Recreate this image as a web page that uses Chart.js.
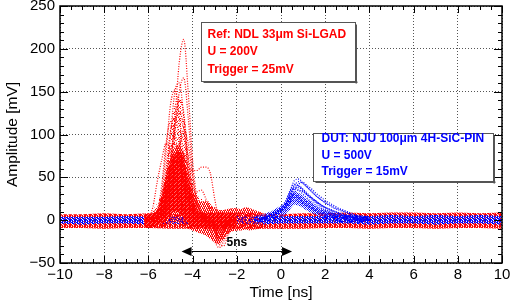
<!DOCTYPE html>
<html>
<head>
<meta charset="utf-8">
<script src="https://cdn.jsdelivr.net/npm/chart.js@4.4.1/dist/chart.umd.min.js"></script>
<style>
  html, body { margin: 0; padding: 0; background: #fff; }
  canvas { display: block; }
</style>
</head>
<body>
<canvas id="scope" width="512" height="305"></canvas>
<script>
// ---- axis ranges / labels ----
const xMin = -10, xMax = 10, xStep = 2, xMinor = 0.5;
const yMin = -50, yMax = 250, yStep = 50, yMinor = 10;
const xTitle = 'Time [ns]';
const yTitle = 'Amplitude [mV]';

// ---- baseline noise band (both detectors), 1 ns grid ----
const bandT = [-10,-9,-8,-7,-6,-5,-4,-3,-2,-1,0,1,2,3,4,5,6,7,8,9,10];
const baseRedHigh = [7,7,8,7,8,7,8,9,9,8,7,8,8,9,8,9,9,8,9,8,9];
const baseRedLow  = [-9,-9,-10,-9,-9,-10,-10,-11,-10,-10,-10,-10,-9,-9,-10,-9,-9,-10,-9,-9,-10];
const baseBlueHigh = [4,4,4,5,4,4,5,5,5,4,5,5,5,6,5,6,5,6,5,6,5];
const baseBlueLow  = [-4,-5,-4,-4,-5,-4,-5,-4,-4,-5,-4,-4,-4,-4,-5,-4,-4,-5,-4,-4,-5];

// ---- Si-LGAD (red) pulses, 0.2 ns grid ----
const redT = [-6.2,-6.0,-5.8,-5.6,-5.4,-5.2,-5.0,-4.8,-4.6,-4.4,-4.2,-4.0,-3.8,-3.6,-3.4,-3.2,-3.0,-2.8,-2.6,-2.4,-2.2,-2.0];
const redCoreHigh = [7,7,8,12,28,50,68,78,80,72,48,28,12,9,8,8,8,8,8,8,8,8];
const redCoreLow  = [-8,-8,-8,-6,-4,0,6,10,8,2,-4,-8,-9,-9,-9,-9,-9,-9,-9,-9,-9,-9];
const redSpreadHigh = [7,7,9,14,30,55,75,85,88,80,58,38,25,22,22,18,14,12,12,13,14,14];
const redSpreadLow  = [-9,-9,-9,-9,-8,-6,-4,-2,-4,-8,-10,-12,-14,-16,-18,-22,-26,-28,-22,-16,-13,-12];
const redHaloHigh = [8,9,12,20,35,65,105,135,145,125,85,45,30,25,24,20,15,12,12,12,12,12];
const redTraces = [
  [0,0,2,3,8,25,60,120,185,211,150,70,25,10,5,2,-5,-10,-5,0,2,0],
  [0,1,2,3,6,20,50,100,150,166,120,55,20,8,4,0,-6,-12,-6,0,2,0],
  [0,1,3,5,15,45,100,150,160,120,60,25,10,5,2,0,-4,-8,-3,0,1,0],
  [0,2,3,8,30,80,135,152,120,70,30,12,6,3,1,-2,-8,-12,-6,-2,0,0],
  [0,0,2,4,10,30,70,110,128,105,55,20,8,4,0,-3,-10,-18,-10,-3,0,0],
  [0,2,4,10,40,90,115,100,70,40,20,10,5,2,0,-5,-15,-25,-15,-5,0,0],
  [0,0,1,2,5,15,40,70,90,98,75,35,15,8,4,0,-8,-20,-15,-5,0,0],
  [0,3,15,45,70,90,80,50,25,12,5,2,0,0,0,-3,-10,-20,-10,-3,0,0],
  [0,0,1,2,4,10,30,60,80,75,62,58,58,62,62,55,25,0,-8,-3,0,0],
  [0,0,0,2,5,20,50,70,65,45,30,28,33,35,25,12,0,-15,-22,-10,-2,0],
  [0,0,1,3,8,25,55,75,70,50,25,10,5,0,-5,-12,-25,-32,-25,-12,-4,0],
  [0,0,0,1,4,12,35,60,75,65,40,18,8,3,0,-8,-20,-28,-30,-18,-6,0],
  [0,1,2,4,12,30,45,40,28,15,8,4,2,0,-2,-6,-12,-15,-8,-2,0,0],
  [0,0,0,0,2,8,25,50,60,55,35,15,6,3,10,15,10,0,-10,-15,-8,-2],
  [0,0,1,3,8,28,70,115,140,125,70,30,12,5,2,0,-6,-14,-8,-2,0,0],
  [0,1,2,6,20,60,105,120,95,55,25,10,5,2,0,-4,-12,-20,-12,-4,0,0],
  [0,0,0,1,3,10,25,55,85,105,90,50,20,10,5,0,-6,-16,-12,-4,0,0],
  [0,1,2,5,18,50,85,90,70,45,22,10,5,2,0,-4,-10,-22,-14,-4,0,0]
];
const redTailT = [-2.2,-2.0,-1.8,-1.6,-1.4,-1.2,-1.0,-0.8];
const redTailHigh = [12,14,13,15,14,12,10,8];
const redTailLow  = [-13,-12,-12,-11,-12,-11,-10,-9];

// ---- 4H-SiC-PIN (blue) pulses, 0.2 ns grid ----
const blueT = [-1.2,-1.0,-0.8,-0.6,-0.4,-0.2,0,0.2,0.4,0.6,0.8,1.0,1.2,1.4,1.6,1.8,2.0,2.2,2.4,2.6,2.8,3.0,3.2,3.4,3.6,3.8,4.0];
const blueCoreHigh = [5,6,7,9,11,14,17,21,28,33,32,28,24,20,16,13,11,9,8,7,6,6,5,5,5,5,5];
const blueCoreLow  = [-4,-4,-3,-2,0,2,3,6,12,18,17,14,11,8,6,4,2,0,-1,-2,-2,-3,-3,-3,-3,-3,-3];
const blueTraces = [
  [0,1,3,5,7,10,13,18,32,46,48,43,38,33,28,24,21,18,15,13,11,9,7,5,4,3,2],
  [0,1,2,4,6,8,11,16,28,40,45,43,38,33,28,24,20,17,14,12,10,8,6,5,3,2,1],
  [0,1,3,5,8,11,14,20,34,42,40,35,30,26,22,18,15,13,11,9,7,5,4,3,2,1,0],
  [0,0,2,4,6,9,12,17,30,39,40,36,31,26,22,18,15,12,10,8,6,5,4,3,2,1,0],
  [0,1,2,4,7,10,13,18,29,37,35,30,25,21,17,14,11,9,7,6,5,4,3,2,1,0,0],
  [0,0,1,3,5,8,11,15,24,32,35,33,29,25,21,18,15,12,10,8,7,6,4,3,2,1,0],
  [0,1,3,5,8,11,15,22,31,30,26,22,18,15,12,10,8,6,5,4,3,2,1,1,0,0,0],
  [0,0,2,4,6,9,12,16,24,29,28,25,21,18,15,12,10,8,6,5,4,3,2,1,0,0,0],
  [0,1,2,3,5,8,11,15,22,27,25,21,17,14,11,9,7,5,4,3,2,1,0,0,0,0,0],
  [0,0,1,3,5,7,10,14,20,24,22,19,16,13,10,8,6,5,4,3,2,1,0,0,0,0,0],
  [0,0,1,3,5,7,9,12,20,34,42,44,40,36,31,27,23,20,17,14,12,10,8,6,5,4,3],
  [0,1,2,4,6,9,12,16,26,36,38,34,29,24,20,16,13,10,8,6,5,4,3,2,1,0,0]
];

// ---- annotations ----
const refLines = ['Ref: NDL 33\u03BCm Si-LGAD', 'U = 200V', 'Trigger = 25mV'];
const dutLines = ['DUT: NJU 100\u03BCm 4H-SiC-PIN', 'U = 500V', 'Trigger = 15mV'];
const arrowFrom = -4.5, arrowTo = 0.5, arrowLevel = -36;
const arrowText = '5ns';

Chart.defaults.font.family = '"Liberation Sans", Arial, sans-serif';

const RED = '#ff0000', BLUE = '#0000ff';

function makePattern(rows) {
  const pal = { R: '#ff0000', r: '#ff6a6a', B: '#0000ff', b: '#5a5aff' };
  const c = document.createElement('canvas');
  c.width = rows[0].length;
  c.height = rows.length;
  const g = c.getContext('2d');
  rows.forEach((row, j) => {
    [...row].forEach((ch, i) => {
      if (pal[ch]) { g.fillStyle = pal[ch]; g.fillRect(i, j, 1, 1); }
    });
  });
  return g.createPattern(c, 'repeat');
}

const patBaseRed = makePattern(['RrR.R', 'R.RrR', 'rRR.R', 'R.RRr', 'RR.rR']);
const patBaseBlue = makePattern(['BbB.B', 'B.BbR', 'bBB.B', 'R.BBb', 'BB.bB']);
const patRedCore = makePattern(['RRrR', 'RRRR', 'rRRR', 'RRRr']);
const patRedSpread = makePattern(['R.Rr', '.R.R', 'rR.R', 'R.R.']);
const patRedHalo = makePattern(['R...r.', '...R..', '.r....', '....R.', 'R.....', '..r..R']);
const patBlueCore = makePattern(['B.b.', '.B.B', 'b.B.', '.B.b']);

const pts = (t, v) => t.map((x, i) => ({ x: x, y: v[i] }));

const datasets = [];
function band(t, high, low, pattern, order, smooth) {
  const common = { pointRadius: 0, borderWidth: 0, borderColor: 'rgba(0,0,0,0)', order: order,
    cubicInterpolationMode: smooth ? 'monotone' : 'default', tension: 0 };
  datasets.push(Object.assign({ data: pts(t, high), fill: '+1', backgroundColor: pattern }, common));
  datasets.push(Object.assign({ data: pts(t, low), fill: false }, common));
}
band(bandT, baseRedHigh, baseRedLow, patBaseRed, 20, false);
band(bandT, baseBlueHigh, baseBlueLow, patBaseBlue, 19, false);
band(redTailT, redTailHigh, redTailLow, patRedSpread, 18, true);
band(redT, redHaloHigh, redSpreadHigh, patRedHalo, 17, true);
band(redT, redSpreadHigh, redSpreadLow, patRedSpread, 16, true);
band(redT, redCoreHigh, redCoreLow, patRedCore, 15, true);
band(blueT, blueCoreHigh, blueCoreLow, patBlueCore, 14, true);

redTraces.forEach(v => datasets.push({
  data: pts(redT, v), borderColor: RED, borderWidth: 1.2, borderDash: [1, 1.5],
  pointRadius: 0, fill: false, cubicInterpolationMode: 'monotone', order: 5
}));
blueTraces.forEach(v => datasets.push({
  data: pts(blueT, v), borderColor: BLUE, borderWidth: 1.2, borderDash: [1, 1.5],
  pointRadius: 0, fill: false, cubicInterpolationMode: 'monotone', order: 4
}));

const fmt = v => (v < 0 ? '\u2212' + Math.abs(v) : String(v));

// frame, inward ticks, text boxes and the 5ns arrow
const overlay = {
  id: 'overlay',
  afterDatasetsDraw(chart) {
    const { ctx, chartArea: a, scales: { x, y } } = chart;
    ctx.save();

    ctx.strokeStyle = '#000';
    ctx.lineWidth = 1;
    ctx.beginPath();
    for (let v = xMin; v <= xMax + 1e-9; v += xMinor) {
      const px = Math.round(x.getPixelForValue(v)) + 0.5;
      const len = Math.abs(v / xStep - Math.round(v / xStep)) < 1e-6 ? 7 : 4;
      ctx.moveTo(px, a.bottom); ctx.lineTo(px, a.bottom - len);
      ctx.moveTo(px, a.top); ctx.lineTo(px, a.top + len);
    }
    for (let v = yMin; v <= yMax + 1e-9; v += yMinor) {
      const py = Math.round(y.getPixelForValue(v)) + 0.5;
      const len = v % yStep === 0 ? 8 : 4;
      ctx.moveTo(a.left, py); ctx.lineTo(a.left + len, py);
      ctx.moveTo(a.right, py); ctx.lineTo(a.right - len, py);
    }
    ctx.stroke();
    ctx.lineWidth = 1.5;
    ctx.strokeRect(a.left, a.top, a.right - a.left, a.bottom - a.top);

    // 5ns arrow
    const ax0 = x.getPixelForValue(arrowFrom), ax1 = x.getPixelForValue(arrowTo);
    const ay = Math.round(y.getPixelForValue(arrowLevel)) + 0.5;
    const head = 10, hw = 4.5;
    ctx.lineWidth = 1;
    ctx.beginPath();
    ctx.moveTo(ax0 + head, ay); ctx.lineTo(ax1 - head, ay);
    ctx.stroke();
    ctx.fillStyle = '#000';
    ctx.beginPath();
    ctx.moveTo(ax0, ay); ctx.lineTo(ax0 + head, ay - hw); ctx.lineTo(ax0 + head, ay + hw); ctx.closePath();
    ctx.moveTo(ax1, ay); ctx.lineTo(ax1 - head, ay - hw); ctx.lineTo(ax1 - head, ay + hw); ctx.closePath();
    ctx.fill();
    ctx.font = 'bold 12px "Liberation Sans", Arial, sans-serif';
    ctx.textAlign = 'center';
    ctx.textBaseline = 'middle';
    ctx.fillText(arrowText, (ax0 + ax1) / 2, ay - 9);

    // text boxes
    const box = (x0, x1, y0, y1, lines, color, firstY, gap, padX) => {
      const l = Math.round(x.getPixelForValue(x0)) + 0.5, r = Math.round(x.getPixelForValue(x1)) + 0.5;
      const t = Math.round(y.getPixelForValue(y0)) + 0.5, b = Math.round(y.getPixelForValue(y1)) + 0.5;
      ctx.fillStyle = '#fff';
      ctx.fillRect(l, t, r - l, b - t);
      ctx.strokeStyle = '#555';
      ctx.lineWidth = 1;
      ctx.strokeRect(l, t, r - l, b - t);
      ctx.fillStyle = '#555';
      ctx.fillRect(r, t + 2, 1.5, b - t);
      ctx.fillRect(l + 2, b, r - l, 1.5);
      ctx.fillStyle = color;
      ctx.textAlign = 'left';
      lines.forEach((s, i) => ctx.fillText(s, l + padX, t + firstY + i * gap));
    };
    box(-3.6, 3.37, 231, 163, refLines, RED, 12, 17.5, 6);
    box(1.47, 9.6, 102, 46, dutLines, BLUE, 5.5, 16.2, 8);

    ctx.restore();
  }
};

new Chart(document.getElementById('scope'), {
  type: 'line',
  data: { datasets: datasets },
  options: {
    responsive: false,
    animation: false,
    devicePixelRatio: 1,
    layout: { padding: { top: 6, right: 10, left: 0, bottom: 0 } },
    plugins: { legend: { display: false }, tooltip: { enabled: false } },
    scales: {
      x: {
        type: 'linear', min: xMin, max: xMax,
        ticks: { stepSize: xStep, color: '#000', font: { size: 15 }, padding: 3, maxRotation: 0, callback: fmt },
        grid: { color: '#555', lineWidth: 1, drawTicks: false },
        border: { display: false, dash: [1, 2] },
        title: { display: true, text: xTitle, color: '#000', font: { size: 15.5 }, padding: { top: 0, bottom: 3 } },
        afterFit(s) { s.height = 42; s.paddingLeft = 0; s.paddingRight = 0; }
      },
      y: {
        type: 'linear', min: yMin, max: yMax,
        ticks: { stepSize: yStep, color: '#000', font: { size: 15 }, padding: 5, callback: fmt },
        grid: { color: '#555', lineWidth: 1, drawTicks: false },
        border: { display: false, dash: [1, 2] },
        title: { display: true, text: yTitle, color: '#000', font: { size: 15.5 }, padding: { top: 3, bottom: 0 } },
        afterFit(s) { s.width = 60; s.paddingTop = 0; s.paddingBottom = 0; }
      }
    }
  },
  plugins: [overlay]
});
</script>
</body>
</html>
